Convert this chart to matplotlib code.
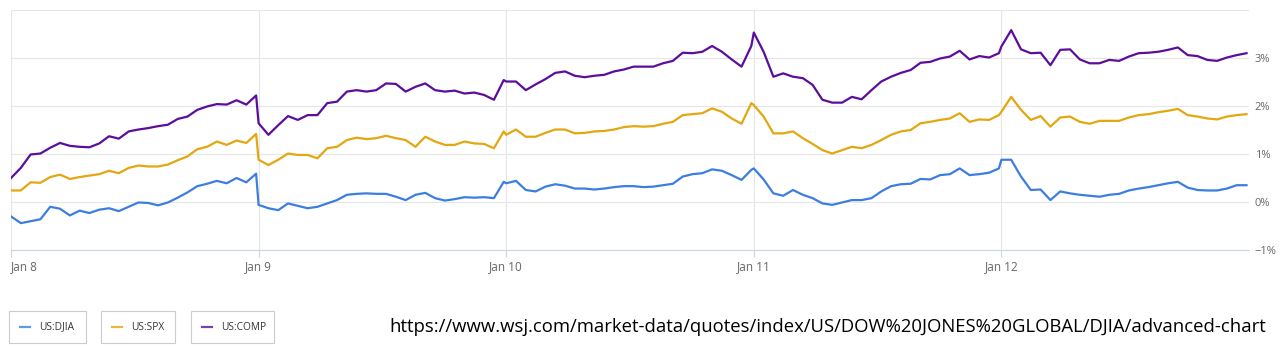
import numpy as np
import matplotlib.pyplot as plt
from matplotlib.patches import Rectangle

plt.rcParams['font.family'] = ['Open Sans', 'DejaVu Sans']

# % change, 26 readings per trading day (Jan 8 .. Jan 12)
days = ['Jan 8', 'Jan 9', 'Jan 10', 'Jan 11', 'Jan 12']
per_day = 26

djia = [
    -0.30, -0.44, -0.40, -0.36, -0.10, -0.14, -0.28, -0.18, -0.23, -0.16, -0.13, -0.19, -0.10,
    -0.01, -0.02, -0.07, -0.01, 0.09, 0.20, 0.33, 0.38, 0.44, 0.39, 0.50, 0.41, 0.59,
    -0.06, -0.13, -0.17, -0.03, -0.08, -0.13, -0.10, -0.03, 0.04, 0.15, 0.17, 0.18, 0.17,
    0.17, 0.11, 0.04, 0.15, 0.19, 0.08, 0.03, 0.06, 0.10, 0.09, 0.10, 0.08, 0.42,
    0.39, 0.44, 0.25, 0.22, 0.32, 0.37, 0.34, 0.28, 0.28, 0.26, 0.28, 0.31, 0.33,
    0.33, 0.31, 0.32, 0.35, 0.38, 0.53, 0.58, 0.60, 0.68, 0.65, 0.56, 0.46, 0.67,
    0.70, 0.47, 0.18, 0.13, 0.25, 0.15, 0.08, -0.03, -0.06, -0.01, 0.04, 0.04, 0.08,
    0.22, 0.33, 0.37, 0.38, 0.48, 0.47, 0.56, 0.58, 0.70, 0.56, 0.58, 0.61, 0.70,
    0.88, 0.88, 0.53, 0.25, 0.26, 0.04, 0.22, 0.18, 0.15, 0.13, 0.11, 0.15, 0.17,
    0.24, 0.28, 0.31, 0.35, 0.39, 0.42, 0.30, 0.25, 0.24, 0.24, 0.28, 0.35, 0.35,
]
spx = [
    0.24, 0.24, 0.41, 0.40, 0.52, 0.57, 0.48, 0.52, 0.55, 0.58, 0.65, 0.60, 0.71,
    0.76, 0.74, 0.74, 0.78, 0.87, 0.95, 1.10, 1.15, 1.26, 1.19, 1.28, 1.23, 1.42,
    0.88, 0.77, 0.88, 1.01, 0.98, 0.98, 0.91, 1.12, 1.15, 1.29, 1.34, 1.31, 1.33,
    1.38, 1.33, 1.29, 1.15, 1.36, 1.26, 1.19, 1.19, 1.26, 1.22, 1.21, 1.12, 1.47,
    1.40, 1.51, 1.36, 1.36, 1.44, 1.51, 1.51, 1.43, 1.44, 1.47, 1.48, 1.51, 1.56,
    1.58, 1.57, 1.58, 1.63, 1.67, 1.81, 1.83, 1.85, 1.95, 1.88, 1.74, 1.63, 2.06,
    2.02, 1.78, 1.43, 1.43, 1.47, 1.33, 1.21, 1.08, 1.01, 1.08, 1.15, 1.12, 1.19,
    1.29, 1.40, 1.47, 1.50, 1.64, 1.67, 1.71, 1.74, 1.85, 1.67, 1.72, 1.71, 1.81,
    1.88, 2.19, 1.92, 1.71, 1.79, 1.57, 1.76, 1.78, 1.67, 1.63, 1.69, 1.69, 1.69,
    1.76, 1.81, 1.83, 1.87, 1.90, 1.94, 1.81, 1.78, 1.74, 1.72, 1.78, 1.81, 1.83,
]
comp = [
    0.50, 0.71, 0.99, 1.01, 1.13, 1.23, 1.17, 1.15, 1.14, 1.22, 1.37, 1.32, 1.47,
    1.51, 1.54, 1.58, 1.61, 1.73, 1.78, 1.92, 1.99, 2.04, 2.03, 2.12, 2.03, 2.22,
    1.64, 1.40, 1.60, 1.79, 1.71, 1.81, 1.81, 2.06, 2.09, 2.30, 2.33, 2.30, 2.33,
    2.47, 2.46, 2.30, 2.40, 2.47, 2.33, 2.30, 2.32, 2.26, 2.28, 2.23, 2.13, 2.54,
    2.51, 2.51, 2.33, 2.45, 2.56, 2.69, 2.72, 2.63, 2.60, 2.63, 2.65, 2.72, 2.76,
    2.82, 2.82, 2.82, 2.89, 2.94, 3.11, 3.10, 3.13, 3.25, 3.13, 2.97, 2.82, 3.25,
    3.53, 3.13, 2.61, 2.68, 2.61, 2.58, 2.44, 2.13, 2.07, 2.07, 2.19, 2.14, 2.33,
    2.51, 2.61, 2.69, 2.75, 2.90, 2.92, 2.99, 3.03, 3.15, 2.97, 3.04, 3.01, 3.10,
    3.24, 3.58, 3.18, 3.10, 3.11, 2.85, 3.17, 3.18, 2.97, 2.89, 2.89, 2.96, 2.94,
    3.03, 3.10, 3.11, 3.13, 3.17, 3.22, 3.06, 3.04, 2.96, 2.94, 3.01, 3.06, 3.10,
]

names = ['US:DJIA', 'US:SPX', 'US:COMP']
colors = ['#3c7ee0', '#e3a70f', '#5b0e9b']
yticks = [-1, 0, 1, 2, 3, 4]

# time axis: day index + fraction of the session
t = np.concatenate([d + np.linspace(0, 0.99, per_day) for d in range(len(days))])

fig = plt.figure(figsize=(12.82, 3.53), dpi=100)
ax = fig.add_axes([11 / 1282, 1 - 250 / 353, 1238 / 1282, 240 / 353])

for vals, c in zip([djia, spx, comp], colors):
    ax.plot(t, vals, color=c, lw=1.6, solid_joinstyle='round')

ax.set_xlim(0, 5)
ax.set_ylim(-1, 4)
ax.set_yticks(yticks)
ax.set_yticklabels(['\u22121%' if v < 0 else f'{v}%' for v in yticks[:-1]] + [''])
ax.yaxis.tick_right()
ax.set_xticks(range(len(days)))
ax.set_xticklabels(days)
ax.get_xticklabels()[0].set_ha('left')
ax.grid(True, color='#e6e6e6', lw=0.8)
ax.set_axisbelow(True)
for s in ['top', 'right', 'left']:
    ax.spines[s].set_visible(False)
ax.spines['bottom'].set_color('#ccd6eb')
ax.tick_params(axis='y', length=0, pad=4, labelsize=8, labelcolor='#666666')
ax.tick_params(axis='x', length=5, color='#ccd6eb', pad=2, labelsize=8.5, labelcolor='#666666')

# legend boxes
boxes = [(9, 77), (101, 74), (191, 83)]
for (bx, bw), name, c in zip(boxes, names, colors):
    fig.patches.append(Rectangle((bx / 1282, 1 - 343 / 353), bw / 1282, 32 / 353,
                                 transform=fig.transFigure, fill=False, ec='#cccccc', lw=0.8))
    fig.lines.append(plt.Line2D([(bx + 11) / 1282, (bx + 21) / 1282], [1 - 327 / 353] * 2,
                                transform=fig.transFigure, color=c, lw=1.6, alpha=0.8))
    fig.text((bx + 30) / 1282, 1 - 327 / 353, name, fontsize=7.3, color='#333333', va='center')

fig.text(1266 / 1282, 1 - 327 / 353,
         'https://www.wsj.com/market-data/quotes/index/US/DOW%20JONES%20GLOBAL/DJIA/advanced-chart',
         fontsize=13.3, color='black', ha='right', va='center')

fig.savefig('out.png', dpi=100)
